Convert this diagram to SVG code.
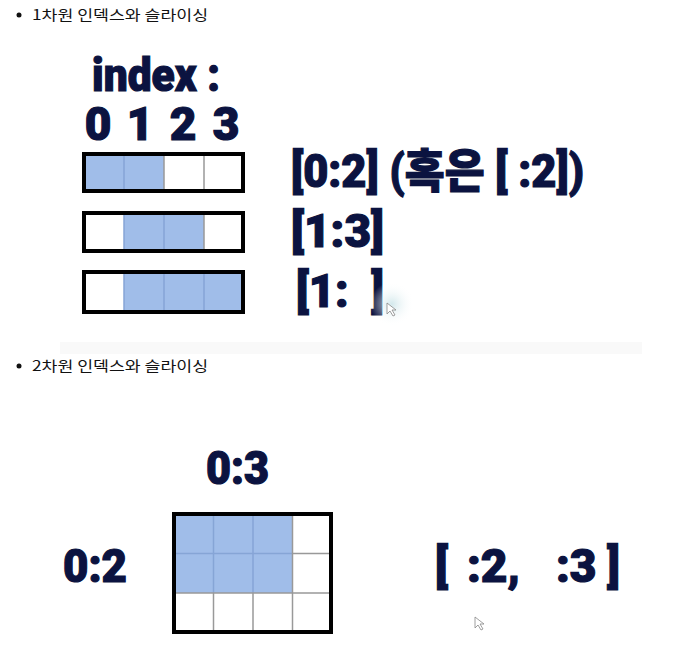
<svg xmlns="http://www.w3.org/2000/svg" width="679" height="650" viewBox="0 0 679 650">
<defs>
<style>
.bul{font-family:"Noto Sans CJK KR","Noto Sans",sans-serif;font-size:14px;fill:#111}
.big{font-family:Roboto,"Noto Sans CJK KR",sans-serif;font-weight:900;fill:#0b1340;stroke:#0b1340;stroke-width:1.2;white-space:pre}
.out{fill:none;stroke:#000;stroke-width:4}
.blue{fill:#a0bde9}
.gl{stroke:#999;stroke-width:1.5}
.bl{stroke:#86a5d6;stroke-width:1.5}
</style>
<radialGradient id="glow" cx="0.5" cy="0.5" r="0.5">
<stop offset="0" stop-color="#cfe6ea" stop-opacity="0.9"/>
<stop offset="1" stop-color="#ffffff" stop-opacity="0"/>
</radialGradient>
</defs>
<rect width="679" height="650" fill="#fff"/>
<rect x="60" y="342" width="582" height="12" fill="#f9f9f9"/>

<g id="bullet1">
<circle cx="19" cy="15" r="2.5" fill="#111"/>
<text class="bul" x="32" y="20" textLength="176" lengthAdjust="spacingAndGlyphs">1차원 인덱스와 슬라이싱</text>
</g>

<g id="index-label">
<text class="big" x="92" y="91" font-size="46" textLength="128" lengthAdjust="spacingAndGlyphs">index :</text>
<text class="big" font-size="46" y="140" text-anchor="middle"><tspan x="98">0</tspan><tspan x="140">1</tspan><tspan x="183">2</tspan><tspan x="226">3</tspan></text>
</g>

<g id="row1">
<rect class="blue" x="84" y="154" width="80" height="37"/>
<line class="bl" x1="124" y1="154" x2="124" y2="191"/>
<line class="gl" x1="164" y1="154" x2="164" y2="191"/>
<line class="gl" x1="204" y1="154" x2="204" y2="191"/>
<rect class="out" x="84" y="154" width="159" height="37"/>
</g>
<g id="row2">
<rect class="blue" x="124" y="213" width="80" height="38"/>
<line class="bl" x1="124" y1="213" x2="124" y2="251"/>
<line class="bl" x1="164" y1="213" x2="164" y2="251"/>
<line class="gl" x1="204" y1="213" x2="204" y2="251"/>
<rect class="out" x="84" y="213" width="159" height="38"/>
</g>
<g id="row3">
<rect class="blue" x="124" y="272" width="119" height="40"/>
<line class="bl" x1="124" y1="272" x2="124" y2="312"/>
<line class="bl" x1="164" y1="272" x2="164" y2="312"/>
<line class="bl" x1="204" y1="272" x2="204" y2="312"/>
<rect class="out" x="84" y="272" width="159" height="40"/>
</g>

<g id="labels1d">
<text class="big" x="291" y="187" font-size="46" textLength="293" lengthAdjust="spacingAndGlyphs" xml:space="preserve">[0:2] (혹은 [ :2])</text>
<text class="big" x="291" y="247" font-size="46" textLength="93" lengthAdjust="spacingAndGlyphs">[1:3]</text>
<text class="big" x="296" y="307" font-size="46" textLength="88" lengthAdjust="spacingAndGlyphs" xml:space="preserve">[1:  ]</text>
</g>
<g id="cursor1">
<circle cx="392" cy="304" r="22" fill="url(#glow)"/>
<path d="M387 303 L387 314 L390 311 L393 316 L395 315 L392 310 L396 310 Z" fill="#fff" stroke="#888" stroke-width="0.8"/>
</g>

<g id="bullet2">
<circle cx="19" cy="366" r="2.5" fill="#111"/>
<text class="bul" x="32" y="371" textLength="176" lengthAdjust="spacingAndGlyphs">2차원 인덱스와 슬라이싱</text>
</g>

<g id="grid2d">
<rect class="blue" x="174" y="514" width="118.5" height="79"/>
<line class="bl" x1="213.5" y1="514" x2="213.5" y2="593"/>
<line class="bl" x1="253" y1="514" x2="253" y2="593"/>
<line class="bl" x1="174" y1="553.5" x2="292.5" y2="553.5"/>
<line class="gl" x1="213.5" y1="593" x2="213.5" y2="632"/>
<line class="gl" x1="253" y1="593" x2="253" y2="632"/>
<line class="gl" x1="292.5" y1="514" x2="292.5" y2="632"/>
<line class="gl" x1="292.5" y1="553.5" x2="331" y2="553.5"/>
<line class="gl" x1="174" y1="593" x2="331" y2="593"/>
<rect class="out" x="174" y="514" width="157" height="118"/>
</g>

<g id="labels2d">
<text class="big" x="206" y="484" font-size="46" textLength="63" lengthAdjust="spacingAndGlyphs">0:3</text>
<text class="big" x="63" y="582" font-size="46" textLength="64" lengthAdjust="spacingAndGlyphs">0:2</text>
<text class="big" font-size="46" y="582" xml:space="preserve"><tspan x="435">[</tspan><tspan x="467">:2,</tspan><tspan x="556">:3</tspan><tspan x="607">]</tspan></text>
</g>
<g id="cursor2">
<path d="M475 617 L475 628 L478 625 L481 630 L483 629 L480 624 L484 624 Z" fill="#fff" stroke="#888" stroke-width="0.8"/>
</g>
</svg>
